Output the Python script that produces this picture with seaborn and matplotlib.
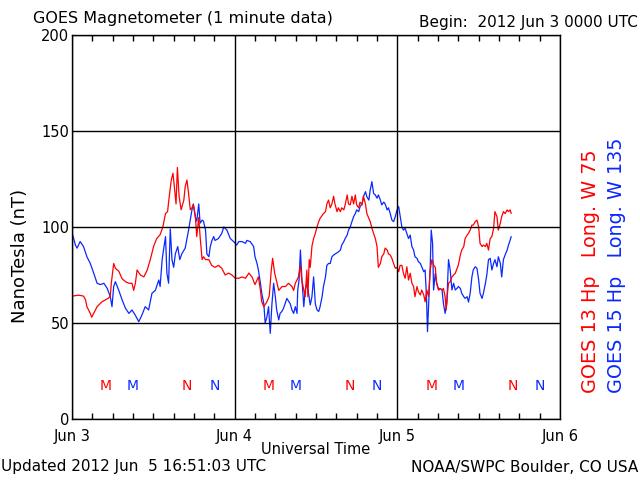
import matplotlib
matplotlib.use('Agg')
import matplotlib.pyplot as plt
import seaborn as sns
import pandas as pd
from matplotlib.ticker import MultipleLocator, FixedLocator

# ---------------- data (hours since 2012 Jun 3 00:00 UTC, nT) ----------------
red_hours = [0, 1.0, 1.7, 2.0, 2.2, 2.7, 2.9, 3.2, 3.7, 4.4, 4.9, 5.4, 5.65, 5.8, 6.15, 6.4,
             6.9, 7.4, 7.9, 8.4, 8.85, 9.1, 9.35, 9.6, 10.1, 10.6, 11.1, 11.55, 12.05, 12.5,
             13.0, 13.4, 13.8, 14.1, 14.35, 14.65, 14.9, 15.1, 15.35, 15.55, 15.8, 16.1,
             16.5, 16.7, 16.96, 17.2, 17.45, 17.7, 17.9, 18.2, 18.4, 18.7, 18.9, 19.2, 19.4,
             19.7, 20.2, 20.6, 21.1, 21.6, 22.1, 22.6, 23.1, 23.6, 24.1, 24.6, 25.1, 25.6,
             26.1, 26.55, 27.0, 27.5, 27.8, 28.0, 28.3, 28.75, 29.1, 29.4, 29.6, 29.9, 30.2,
             30.5, 31.0, 31.5, 31.95, 32.45, 32.7, 32.95, 33.2, 33.4, 33.7, 33.9, 34.2, 34.4,
             34.65, 34.8, 35.0, 35.15, 35.4, 35.65, 35.9, 36.15, 36.4, 36.6, 36.9, 37.1, 37.4,
             37.6, 37.85, 38.1, 38.35, 38.6, 38.8, 39.1, 39.3, 39.6, 39.8, 40.1, 40.3, 40.6,
             40.8, 41.05, 41.3, 41.55, 41.8, 42.0, 42.3, 42.5, 42.8, 43.0, 43.3, 43.5, 43.8,
             44.0, 44.25, 44.5, 44.75, 45.0, 45.2, 45.5, 45.7, 46.0, 46.2, 46.5, 46.7, 46.95,
             47.2, 47.45, 47.7, 47.95, 48.2, 48.4, 48.67, 48.9, 49.15, 49.4, 49.65, 49.9,
             50.15, 50.4, 50.6, 50.9, 51.1, 51.4, 51.6, 51.9, 52.1, 52.35, 52.6, 52.85, 53.1,
             53.35, 53.6, 53.8, 54.1, 54.3, 54.6, 54.8, 55.05, 55.2, 55.4, 55.55, 55.8, 56.05,
             56.3, 56.55, 57.0, 57.3, 57.5, 57.8, 58.0, 58.3, 58.5, 58.75, 59.0, 59.2, 59.5,
             59.75, 60.0, 60.2, 60.5, 60.7, 61.0, 61.2, 61.45, 61.7, 61.95, 62.2, 62.4, 62.7,
             62.9, 63.2, 63.4, 63.65, 63.9, 64.2, 64.4, 64.65, 64.8]
red_nt = [64, 64.5, 64, 62, 58.5, 55, 53, 55, 58.5, 61, 62, 63, 64, 70.7, 81, 78.5,
          77, 73, 71.5, 70.7, 70.7, 67, 70.7, 77.6, 75, 74, 77.6, 83, 90, 94,
          96, 100, 107, 108, 116, 124.5, 128, 121, 112, 131, 116, 109,
          114, 121, 124.5, 117.5, 109, 110, 111.5, 106, 95, 105, 95, 83, 84.5,
          83, 83, 80, 79, 80, 78.5, 75, 76, 75, 73.3, 73.3, 74, 73.3,
          76, 74, 70, 74, 67, 61, 58.5, 61, 64, 77.6, 83.7, 76, 71.5,
          67, 69, 69, 70.7, 69, 67, 70.7, 72.4, 74, 80, 72.4, 67, 63.7,
          77.6, 63.7, 83, 79, 90, 94, 96.7, 100, 102.8, 104.5, 106, 107, 108,
          112, 114, 110, 112, 116, 112, 108, 110, 108, 110, 108.9, 111.5, 116.7,
          112, 111.5, 116, 112, 116.7, 111.5, 110, 113, 111.5, 116, 112, 107, 104.5,
          102.8, 99.3, 96.7, 94, 90, 79, 81, 84.5, 86, 89, 88, 86, 85.4,
          83.7, 81, 78.5, 79, 76.7, 80, 80, 75.9, 73.3, 79.3, 72.4, 75.9,
          70.7, 69, 63.7, 69, 66.3, 64.6, 67.2, 64.6, 61, 67.2, 63.7, 77.6, 83,
          80.2, 79, 70.7, 67.2, 68, 67.2, 68, 63.7, 56.8, 65.5, 70.7, 71.5, 74,
          75, 75.9, 80.2, 85.4, 88, 89.8, 94, 95.8, 96.7, 98.4, 101, 101, 102.8,
          103.6, 100, 91.5, 89.8, 90.6, 89.8, 91.5, 88, 94, 95, 99.3, 108, 105.4,
          98.4, 102, 105.4, 108, 107, 108.9, 108, 108.9, 107]

blue_hours = [0, 0.25, 0.5, 0.75, 1.2, 1.7, 2.2, 2.7, 3.2, 3.7, 4.2, 4.7, 5.2, 5.65, 5.9,
              6.15, 6.4, 6.9, 7.4, 7.9, 8.4, 8.85, 9.35, 9.85, 10.3, 10.8, 11.3, 11.8, 12.3,
              12.8, 13.0, 13.3, 13.5, 13.8, 14.0, 14.25, 14.5, 14.75, 15.0, 15.25, 15.6, 15.9,
              16.2, 16.7, 17.2, 17.7, 17.9, 18.2, 18.4, 18.7, 18.9, 19.2, 19.4, 19.7, 19.9,
              20.2, 20.4, 20.65, 20.9, 21.1, 21.6, 22.1, 22.4, 22.85, 23.35, 23.85, 24.3, 24.6,
              25.1, 25.6, 25.8, 26.3, 26.8, 27.0, 27.3, 27.5, 27.8, 28.0, 28.3, 28.5, 28.75,
              29.0, 29.25, 29.5, 29.75, 30.0, 30.2, 30.5, 30.7, 30.95, 31.2, 31.7, 32.2, 32.45,
              32.7, 32.95, 33.2, 33.3, 33.5, 33.7, 33.9, 34.2, 34.4, 34.65, 34.9, 35.15, 35.4,
              35.65, 35.9, 36.15, 36.4, 36.6, 36.9, 37.1, 37.4, 37.6, 37.85, 38.1, 38.35, 38.6,
              38.85, 39.3, 39.6, 39.8, 40.1, 40.3, 40.6, 40.8, 41.05, 41.3, 41.55, 41.8, 42.0,
              42.3, 42.5, 42.8, 43.0, 43.3, 43.5, 43.8, 44.0, 44.25, 44.5, 44.75, 45.0, 45.2,
              45.5, 45.7, 46.0, 46.2, 46.5, 46.7, 46.95, 47.2, 47.45, 47.7, 47.95, 48.2, 48.4,
              48.67, 48.9, 49.15, 49.4, 49.65, 49.9, 50.15, 50.4, 50.6, 50.9, 51.1, 51.4, 51.6,
              51.9, 52.1, 52.3, 52.45, 52.6, 52.85, 53.0, 53.2, 53.35, 53.6, 53.8, 54.1, 54.3,
              54.6, 54.8, 55.05, 55.3, 55.55, 55.8, 56.05, 56.3, 56.55, 56.8, 57.0, 57.3, 57.5,
              57.8, 58.0, 58.3, 58.5, 58.75, 59.0, 59.2, 59.5, 59.75, 60.0, 60.2, 60.5, 60.7,
              61.0, 61.2, 61.45, 61.7, 61.95, 62.2, 62.4, 62.7, 62.9, 63.2, 63.4, 63.65, 63.9,
              64.2, 64.4, 64.65, 64.8]
blue_nt = [97, 94, 90.6, 89, 92.4, 89.8, 84.5, 81, 76, 70.7, 70, 70.7, 68, 63.7, 58.5,
           69, 71.5, 67, 62, 57.6, 55, 56.8, 54, 50.7, 54, 58.5, 56.8, 65.5, 67,
           72.4, 69, 83, 88, 95, 76, 70.7, 99, 83, 79, 86, 89.8, 83,
           86, 89, 98.4, 109, 112, 105, 103, 112, 102, 103.6, 103, 98.4, 86,
           84.5, 89.8, 93, 95, 93, 94, 96.7, 100, 98.4, 94, 92.4, 90.6, 92.4,
           92.4, 91.5, 93, 92.4, 89.8, 84.5, 81, 77.6, 70.7, 65.5, 60, 50, 53,
           58.5, 44.6, 60, 70.7, 63.7, 56.8, 51.6, 55, 56, 57.6, 62.8, 60, 56.8,
           55, 58.5, 55, 67, 72.4, 88, 74, 58.5, 67, 70.7, 65.5, 59.4, 63.7,
           74, 60, 56.8, 56, 58.5, 63.7, 69, 74, 80, 81, 81, 84.5, 85.4,
           86, 87, 88, 90.6, 92.4, 94, 95.8, 98.4, 100, 102.8, 105.4, 107, 108.9,
           108, 110.6, 112, 115.8, 118.4, 115.8, 114, 119.3, 123.6, 117.5, 116.7, 115, 116.7,
           114, 111.5, 113, 112, 108.9, 110, 107, 103.6, 102.8, 105.4, 108.9, 110.6, 106,
           100, 98.4, 99.3, 96.7, 94, 95.8, 89.8, 88, 84.5, 83.7, 82, 81, 79.3,
           76.7, 77.6, 63.7, 45.5, 58.5, 79.3, 98.4, 91.5, 67.2, 75.9, 70.7, 67.2, 68,
           67.2, 60.2, 55, 60.2, 83, 77.6, 67.2, 70.7, 67.2, 68, 69, 68, 65.5,
           63.7, 62.8, 63.7, 60.9, 65.5, 74, 77.6, 79.3, 78.5, 72.4, 65.5, 62.8, 65.5,
           70.7, 75, 83, 83.7, 77.6, 81, 83, 79.3, 84.5, 81, 74, 83, 85.4,
           88, 90.6, 93.2, 95]

# local midnight (M) / noon (N) markers, hours UT
red_m_hours = [5, 29, 53]
red_n_hours = [17, 41, 65]
blue_m_hours = [9, 33, 57]
blue_n_hours = [21, 45, 69]
marker_level = 17

day_ticks = [0, 24, 48, 72]
day_labels = ['Jun 3', 'Jun 4', 'Jun 5', 'Jun 6']
y_ticks = [0, 50, 100, 150, 200]

RED = '#ff0000'
BLUE = '#0a28ff'

# ---------------- plotting ----------------
sns.set_style('white')
plt.rcParams['font.family'] = ['DejaVu Sans']
plt.rcParams['text.color'] = 'black'
plt.rcParams['xtick.color'] = 'black'
plt.rcParams['ytick.color'] = 'black'
plt.rcParams['axes.labelcolor'] = 'black'

fig = plt.figure(figsize=(6.4, 4.8), dpi=100)
ax = fig.add_axes([72 / 640, 61 / 480, 488 / 640, 384 / 480])

df_red = pd.DataFrame({'hours': red_hours, 'nT': red_nt})
df_blue = pd.DataFrame({'hours': blue_hours, 'nT': blue_nt})
sns.lineplot(data=df_blue, x='hours', y='nT', color=BLUE, lw=0.9, ax=ax, estimator=None)
sns.lineplot(data=df_red, x='hours', y='nT', color=RED, lw=0.9, ax=ax, estimator=None)

for h in red_m_hours:
    ax.text(h, marker_level, 'M', color=RED, ha='center', va='center', fontsize=10)
for h in red_n_hours:
    ax.text(h, marker_level, 'N', color=RED, ha='center', va='center', fontsize=10)
for h in blue_m_hours:
    ax.text(h, marker_level, 'M', color=BLUE, ha='center', va='center', fontsize=10)
for h in blue_n_hours:
    ax.text(h, marker_level, 'N', color=BLUE, ha='center', va='center', fontsize=10)

ax.set_xlim(0, 72)
ax.set_ylim(0, 200)
ax.xaxis.set_major_locator(FixedLocator(day_ticks))
ax.set_xticklabels(day_labels)
ax.xaxis.set_minor_locator(MultipleLocator(3))
ax.yaxis.set_major_locator(FixedLocator(y_ticks))
ax.set_yticklabels([str(v) for v in y_ticks])

ax.grid(True, which='major', color='black', lw=1.0)
ax.set_axisbelow(False)
ax.tick_params(axis='x', which='minor', direction='in', top=True, bottom=True,
               length=4, width=1, color='black')
ax.tick_params(axis='x', which='major', direction='in', top=True, bottom=True,
               length=0, pad=7, labelsize=10.5, labelcolor='black')
ax.tick_params(axis='y', which='major', length=0, pad=2, labelsize=10.5, labelcolor='black')
for s in ax.spines.values():
    s.set_color('black')
    s.set_linewidth(1.0)
    s.set_visible(True)
ax.set_xlabel('')
ax.set_ylabel('')

def ftext(x, y, s, **kw):
    kw.setdefault('color', 'black')
    fig.text(x / 640, 1 - y / 480, s, **kw)

ftext(33, 18, 'GOES Magnetometer (1 minute data)', fontsize=11.5, ha='left', va='center')
ftext(638, 22, 'Begin:  2012 Jun 3 0000 UTC', fontsize=11, ha='right', va='center')
ftext(20, 256, 'NanoTesla (nT)', fontsize=13, rotation=90, ha='center', va='center')
ftext(316, 449, 'Universal Time', fontsize=10.5, ha='center', va='center')
ftext(1, 467, 'Updated 2012 Jun  5 16:51:03 UTC', fontsize=11, ha='left', va='center')
ftext(638, 467, 'NOAA/SWPC Boulder, CO USA', fontsize=11, ha='right', va='center')
ftext(591, 393, 'GOES 13 Hp   Long. W 75', fontsize=13.8, color=RED, rotation=90,
      ha='center', va='bottom')
ftext(616, 393, 'GOES 15 Hp   Long. W 135', fontsize=13.8, color=BLUE, rotation=90,
      ha='center', va='bottom')

fig.savefig('out.png', dpi=100)
